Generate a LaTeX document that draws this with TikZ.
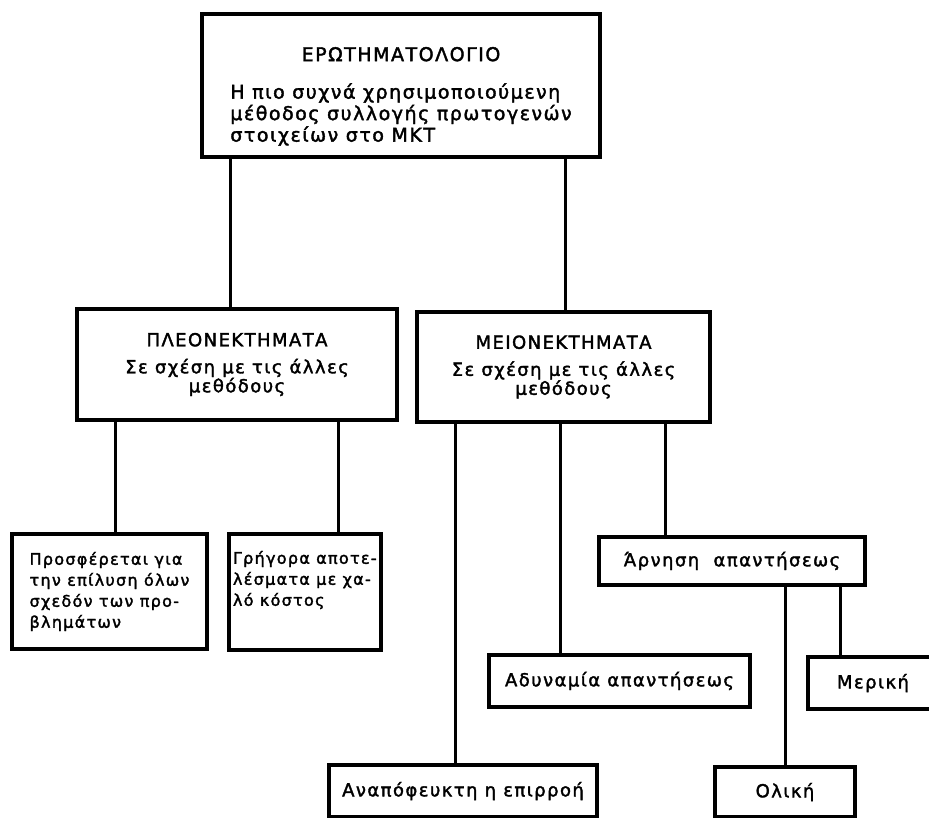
\documentclass[tikz,border=0pt]{standalone}
\usepackage{fontspec}
\setmainfont{DejaVu Sans}[LetterSpace=8,FakeBold=2]
\begin{document}
\begin{tikzpicture}[
x=1pt,y=-1pt,
line width=3pt,
every node/.style={rectangle,draw,line width=4pt,anchor=north west,inner sep=4pt,
  font=\fontsize{18}{20}\selectfont}
]
\useasboundingbox (0,0) rectangle (929,817);
\clip (0,0) rectangle (929,817);
\node (top)[minimum width=398pt,minimum height=143pt,font=\fontsize{19}{21}\selectfont] at (200,12){%
	\begin{tabular}{@{}l@{}}
	\multicolumn{1}{@{}c@{}}{\rule{0pt}{38pt}ΕΡΩΤΗΜΑΤΟΛΟΓΙΟ}\\[16pt]
	Η πιο συχνά χρησιμοποιούμενη\\
	μέθοδος συλλογής πρωτογενών\\
	στοιχείων στο ΜΚΤ
	\end{tabular}};
\node (pleon)[minimum width=320pt,minimum height=111pt,align=center,font=\fontsize{18}{19}\selectfont] at (75,307)
	{ΠΛΕΟΝΕΚΤΗΜΑΤΑ\\[8pt] Σε σχέση με τις άλλες\\ μεθόδους};
\node (meion)[minimum width=293pt,minimum height=110pt,align=center,font=\fontsize{18}{19}\selectfont] at (415,310)
	{ΜΕΙΟΝΕΚΤΗΜΑΤΑ\\[8pt] Σε σχέση με τις άλλες\\ μεθόδους};
\node (prosf)[minimum width=195pt,minimum height=115pt,align=left,font=\fontsize{16}{21}\selectfont] at (10,532)
	{Προσφέρεται για\\ την επίλυση όλων\\ σχεδόν των προ-\\ βλημάτων};
\node (grig)[minimum width=151pt,minimum height=116pt,align=left,font=\fontsize{16}{21}\selectfont] at (227,532)
	{Γρήγορα αποτε-\\ λέσματα με χα-\\ λό κόστος\\ \strut};
\node (arnisi)[minimum width=266pt,minimum height=48pt] at (597,535) {Άρνηση~~απαντήσεως};
\node (adyn)[minimum width=261pt,minimum height=52pt] at (487,653) {Αδυναμία απαντήσεως};
\node (meriki)[minimum width=130pt,minimum height=52pt] at (806,655) {Μερική};
\node (anap)[minimum width=268pt,minimum height=52pt] at (327,763) {Αναπόφευκτη η επιρροή};
\node (oliki)[minimum width=140pt,minimum height=50pt] at (713,765) {Ολική};
\draw (230,0 |- top.south) -- (230,0 |- pleon.north);
\draw (565,0 |- top.south) -- (565,0 |- meion.north);
\draw (115,0 |- pleon.south) -- (115,0 |- prosf.north);
\draw (338,0 |- pleon.south) -- (338,0 |- grig.north);
\draw (455,0 |- meion.south) -- (455,0 |- anap.north);
\draw (560,0 |- meion.south) -- (560,0 |- adyn.north);
\draw (665,0 |- meion.south) -- (665,0 |- arnisi.north);
\draw (785,0 |- arnisi.south) -- (785,0 |- oliki.north);
\draw (840,0 |- arnisi.south) -- (840,0 |- meriki.north);
\end{tikzpicture}
\end{document}
